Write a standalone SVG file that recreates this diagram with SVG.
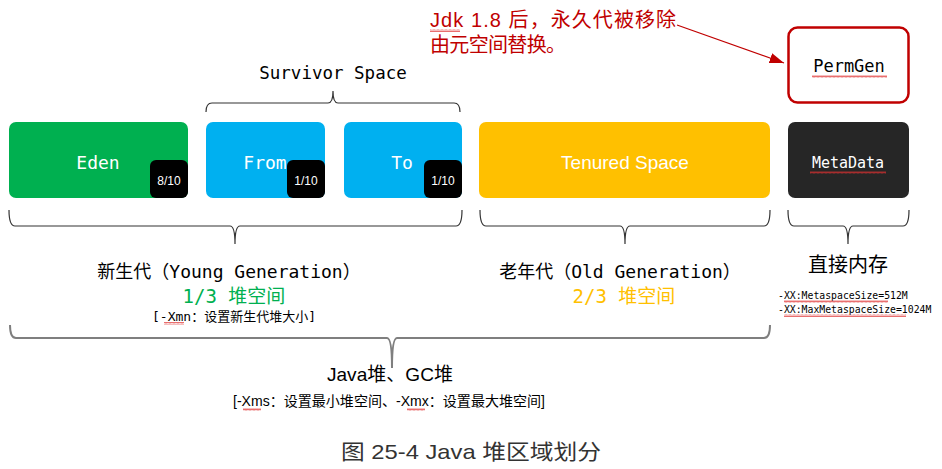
<svg xmlns="http://www.w3.org/2000/svg" width="942" height="469" viewBox="0 0 942 469">
<style>
.mono{font-family:"DejaVu Sans Mono","Liberation Mono","Noto Sans CJK SC",monospace;}
.sans{font-family:"Liberation Sans","Noto Sans CJK SC",sans-serif;}
.cn{font-family:"Noto Sans CJK SC","Liberation Sans",sans-serif;}
.box-t{fill:#fff;text-anchor:middle;}
.badge{fill:#000;}
.badge-t{fill:#fff;font-size:12px;text-anchor:middle;}
.brace{fill:none;stroke:#333;stroke-width:1.2;}
.mid{text-anchor:middle;}
</style>
<defs>
<pattern id="squig" width="4" height="3" patternUnits="userSpaceOnUse">
<path d="M0,2.5 L1,0.5 L2,2.5 L3,0.5 L4,2.5" fill="none" stroke="#e03030" stroke-width="0.7"/>
</pattern>
<marker id="ah" viewBox="0 0 14 10" refX="14" refY="5" markerWidth="12" markerHeight="9" orient="auto" markerUnits="strokeWidth">
<path d="M0,0 L14,5 L0,10 z" fill="#c00000"/>
</marker>
</defs>
<rect width="942" height="469" fill="#fff"/>

<g id="eden">
<rect x="9" y="122" width="179" height="76" rx="7" fill="#00b050"/>
<text x="98" y="169" class="mono box-t" font-size="18">Eden</text>
<rect x="150" y="160" width="38" height="38" rx="6" class="badge"/>
<text x="169" y="185" class="sans badge-t">8/10</text>
</g>
<g id="from">
<rect x="206" y="122" width="119" height="76" rx="7" fill="#00b0f0"/>
<text x="265" y="169" class="mono box-t" font-size="18">From</text>
<rect x="287" y="160" width="38" height="38" rx="6" class="badge"/>
<text x="306" y="185" class="sans badge-t">1/10</text>
</g>
<g id="to">
<rect x="344" y="122" width="118" height="76" rx="7" fill="#00b0f0"/>
<text x="402" y="169" class="mono box-t" font-size="18">To</text>
<rect x="424" y="160" width="38" height="38" rx="6" class="badge"/>
<text x="443" y="185" class="sans badge-t">1/10</text>
</g>
<g id="tenured">
<rect x="479" y="122" width="291" height="76" rx="7" fill="#ffc000"/>
<text x="625" y="169" class="sans box-t" font-size="19">Tenured Space</text>
</g>
<g id="metadata">
<rect x="788" y="122" width="121" height="76" rx="7" fill="#262626"/>
<text x="848" y="168" class="mono box-t" font-size="15">MetaData</text>
<rect x="810" y="171" width="76" height="3" fill="url(#squig)"/>
</g>
<g id="permgen">
<rect x="788.5" y="27.5" width="120" height="75" rx="9" fill="#fff" stroke="#c00000" stroke-width="2.5"/>
<text x="849" y="72" class="mono mid" font-size="17" fill="#000">PermGen</text>
<rect x="812" y="75" width="75" height="3" fill="url(#squig)"/>
</g>

<g id="note">
<text x="430" y="27" class="sans" font-size="20" fill="#c00000" textLength="246" lengthAdjust="spacing">Jdk 1.8 后，永久代被移除</text>
<text x="430" y="52" class="sans" font-size="20" fill="#c00000" textLength="136" lengthAdjust="spacing">由元空间替换。</text>
<rect x="430" y="29" width="30" height="3" fill="url(#squig)"/>
</g>

<g id="connectors">
<line x1="677" y1="25" x2="784" y2="63" stroke="#c00000" stroke-width="1.2" marker-end="url(#ah)"/>
<path class="brace" d="M206,112 Q206,103 212,103 L328,103 Q333,103 333,91 Q333,103 338,103 L454,103 Q460,103 460,112"/>
<path class="brace" d="M9,210 Q9,226 15,226 L230,226 Q235,226 235,244 Q235,226 240,226 L456,226 Q462,226 462,210"/>
<path class="brace" d="M480,210 Q480,226 486,226 L620,226 Q625,226 625,244 Q625,226 630,226 L764,226 Q770,226 770,210"/>
<path class="brace" d="M788,210 Q788,226 794,226 L843,226 Q848,226 848,244 Q848,226 853,226 L903,226 Q909,226 909,210"/>
<path d="M10,325 Q10,338 16,338 L387,338 Q392,338 392,368 Q392,338 397,338 L764,338 Q770,338 770,325" fill="none" stroke="#7f7f7f" stroke-width="2"/>
</g>

<g id="labels">
<text x="333" y="79" class="mono mid" font-size="17.5" fill="#000">Survivor Space</text>
<text x="229" y="278" class="mono mid" font-size="18" fill="#000">新生代（Young Generation）</text>
<text x="234" y="303" class="mono mid" font-size="19" fill="#00b050">1/3 堆空间</text>
<text x="234" y="321" class="mono mid" font-size="13" fill="#000">[-Xmn：设置新生代堆大小]</text>
<rect x="164" y="322" width="20" height="3" fill="url(#squig)"/>
<text x="620" y="278" class="mono mid" font-size="18" fill="#000">老年代（Old Generation）</text>
<text x="624" y="303" class="mono mid" font-size="19" fill="#ffc000">2/3 堆空间</text>
<text x="848" y="272" class="cn mid" font-size="20" fill="#000">直接内存</text>
<text x="778" y="299" class="mono" font-size="9.8" fill="#000">-XX:MetaspaceSize=512M</text>
<rect x="784" y="300" width="104" height="3" fill="url(#squig)"/>
<text x="778" y="313" class="mono" font-size="9.8" fill="#000">-XX:MaxMetaspaceSize=1024M</text>
<rect x="784" y="314" width="122" height="3" fill="url(#squig)"/>
<text x="390" y="381" class="sans mid" font-size="19" fill="#000" textLength="126" lengthAdjust="spacingAndGlyphs">Java堆、GC堆</text>
<text x="233" y="406" class="sans" font-size="14" fill="#000" textLength="312" lengthAdjust="spacingAndGlyphs">[-Xms：设置最小堆空间、-Xmx：设置最大堆空间]</text>
<rect x="243" y="408" width="18" height="3" fill="url(#squig)"/>
<rect x="407" y="408" width="18" height="3" fill="url(#squig)"/>
<text x="341" y="459" class="sans" font-size="21" fill="#333" textLength="260" lengthAdjust="spacingAndGlyphs">图 25-4 Java 堆区域划分</text>
</g>
</svg>
